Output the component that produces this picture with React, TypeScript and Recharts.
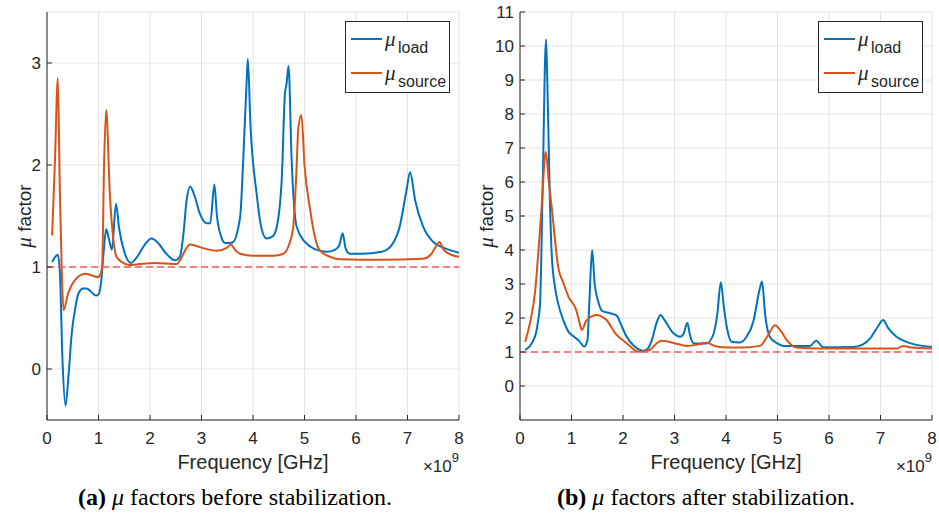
import React from 'react'
import { LineChart, Line, XAxis, YAxis, CartesianGrid, ReferenceLine, Legend, Label } from 'recharts'

const BLUE = '#0072BD'
const ORANGE = '#D95319'
const INK = '#262626'
const SANS = '"Liberation Sans", Arial, Helvetica, sans-serif'
const SERIF = '"Liberation Serif", "Times New Roman", serif'

// frequency ticks (x 10^9 Hz)
const freqTicks = [0, 1, 2, 3, 4, 5, 6, 7, 8]
const beforeTicks = [0, 1, 2, 3]
const afterTicks = [0, 1, 2, 3, 4, 5, 6, 7, 8, 9, 10, 11]

// (a) before stabilization
const loadBeforeFreq = [0.1, 0.21, 0.25, 0.3, 0.36, 0.42, 0.48, 0.55, 0.61, 0.7, 0.77, 0.85, 0.95, 1.0, 1.05, 1.1, 1.15, 1.2, 1.26, 1.34, 1.4, 1.5, 1.63, 1.75, 1.9, 2.03, 2.15, 2.3, 2.49, 2.58, 2.65, 2.71, 2.78, 2.87, 2.97, 3.1, 3.17, 3.25, 3.3, 3.38, 3.46, 3.6, 3.75, 3.81, 3.88, 3.9, 3.95, 4.07, 4.16, 4.26, 4.38, 4.46, 4.56, 4.62, 4.65, 4.69, 4.75, 4.85, 5.11, 5.3, 5.45, 5.6, 5.68, 5.74, 5.8, 5.88, 6.1, 6.5, 6.7, 6.85, 6.98, 7.05, 7.15, 7.3, 7.5, 7.7, 8.0]
const loadBeforeMu = [1.05, 1.12, 0.95, 0.1, -0.36, -0.05, 0.35, 0.6, 0.74, 0.79, 0.79, 0.76, 0.72, 0.73, 0.85, 1.15, 1.37, 1.28, 1.17, 1.62, 1.38, 1.15, 1.04, 1.1, 1.22, 1.28, 1.24, 1.14, 1.065, 1.1, 1.33, 1.65, 1.79, 1.69, 1.52, 1.43, 1.43, 1.81, 1.5, 1.3, 1.235, 1.24, 1.49, 2.05, 2.86, 3.04, 2.4, 1.72, 1.39, 1.28, 1.3, 1.39, 1.88, 2.7, 2.79, 2.97, 2.05, 1.39, 1.2, 1.16, 1.15, 1.17, 1.22, 1.33, 1.18, 1.13, 1.13, 1.15, 1.22, 1.4, 1.75, 1.93, 1.65, 1.4, 1.245, 1.19, 1.14]
const sourceBeforeFreq = [0.1, 0.155, 0.21, 0.25, 0.285, 0.32, 0.41, 0.54, 0.74, 0.85, 0.99, 1.04, 1.07, 1.11, 1.15, 1.22, 1.29, 1.35, 1.45, 1.6, 1.8, 2.1, 2.52, 2.6, 2.7, 2.78, 3.0, 3.3, 3.5, 3.57, 3.65, 3.75, 4.0, 4.4, 4.59, 4.7, 4.78, 4.84, 4.88, 4.94, 5.0, 5.11, 5.2, 5.3, 5.5, 5.69, 6.5, 7.3, 7.45, 7.55, 7.62, 7.7, 7.85, 8.0]
const sourceBeforeMu = [1.31, 2.05, 2.85, 1.72, 1.0, 0.575, 0.74, 0.87, 0.935, 0.92, 0.9, 0.93, 1.0, 2.05, 2.54, 1.72, 1.26, 1.1, 1.05, 1.02, 1.03, 1.04, 1.03, 1.08, 1.18, 1.22, 1.19, 1.16, 1.19, 1.22, 1.17, 1.13, 1.11, 1.11, 1.13, 1.22, 1.39, 1.9, 2.36, 2.49, 2.0, 1.56, 1.3, 1.16, 1.1, 1.075, 1.07, 1.08, 1.12, 1.2, 1.245, 1.17, 1.12, 1.1]

// (b) after stabilization
const loadAfterFreq = [0.1, 0.29, 0.35, 0.39, 0.44, 0.505, 0.53, 0.58, 0.615, 0.68, 0.74, 0.85, 0.94, 1.05, 1.15, 1.25, 1.31, 1.35, 1.4, 1.45, 1.52, 1.6, 1.75, 1.88, 1.95, 2.07, 2.2, 2.33, 2.4, 2.48, 2.56, 2.65, 2.73, 2.8, 2.98, 3.11, 3.18, 3.25, 3.3, 3.38, 3.62, 3.75, 3.83, 3.9, 3.96, 4.02, 4.11, 4.27, 4.4, 4.53, 4.65, 4.7, 4.76, 4.85, 5.0, 5.11, 5.24, 5.63, 5.75, 5.89, 6.47, 6.65, 6.8, 6.95, 7.05, 7.15, 7.31, 7.5, 7.7, 8.0]
const loadAfterMu = [1.06, 1.45, 1.9, 2.43, 5.86, 10.2, 9.0, 5.5, 3.9, 2.9, 2.43, 1.9, 1.6, 1.45, 1.32, 1.16, 1.35, 2.6, 4.0, 3.0, 2.48, 2.2, 2.14, 2.07, 1.85, 1.45, 1.2, 1.06, 1.04, 1.1, 1.35, 1.85, 2.09, 1.95, 1.55, 1.45, 1.55, 1.86, 1.5, 1.25, 1.25, 1.5, 2.1, 3.05, 2.3, 1.7, 1.3, 1.28, 1.45, 1.89, 2.82, 3.07, 2.1, 1.45, 1.25, 1.18, 1.18, 1.18, 1.33, 1.14, 1.15, 1.22, 1.4, 1.75, 1.94, 1.7, 1.45, 1.3, 1.21, 1.15]
const sourceAfterFreq = [0.1, 0.2, 0.29, 0.36, 0.42, 0.5, 0.56, 0.615, 0.74, 0.85, 0.94, 1.09, 1.15, 1.2, 1.28, 1.38, 1.48, 1.55, 1.68, 1.85, 2.07, 2.3, 2.52, 2.65, 2.75, 3.0, 3.24, 3.45, 3.62, 3.8, 3.94, 4.3, 4.66, 4.82, 4.95, 5.05, 5.18, 5.37, 5.82, 7.31, 7.44, 7.6, 8.0]
const sourceAfterMu = [1.3, 1.9, 2.73, 4.0, 5.27, 6.89, 6.0, 5.27, 3.51, 3.0, 2.63, 2.24, 1.9, 1.65, 1.9, 2.04, 2.09, 2.07, 1.94, 1.55, 1.26, 1.01, 1.06, 1.25, 1.33, 1.26, 1.18, 1.22, 1.27, 1.17, 1.14, 1.13, 1.18, 1.5, 1.79, 1.65, 1.35, 1.13, 1.1, 1.1, 1.18, 1.13, 1.1]

const toPoints = (f: number[], m: number[]) => f.map((x, i) => ({ f: x, mu: m[i] }))

const tickText = { fontSize: 17, fill: INK, fontFamily: SANS }

const LeftTick = (props: any) => {
  const { x, y, payload } = props
  return (
    <g>
      <line x1={x + 6} x2={x + 11} y1={y} y2={y} stroke={INK} />
      <text x={x} y={y} dy={6} textAnchor="end" {...tickText}>{payload.value}</text>
    </g>
  )
}

const RightTick = (props: any) => {
  const { x, y } = props
  return <line x1={x - 5} x2={x} y1={y} y2={y} stroke={INK} />
}

const BottomTick = (props: any) => {
  const { x, y, payload } = props
  return (
    <g>
      <line x1={x} x2={x} y1={y - 8} y2={y - 13} stroke={INK} />
      <text x={x} y={y} dy={16} textAnchor="middle" {...tickText}>{payload.value}</text>
    </g>
  )
}

const TopTick = (props: any) => {
  const { x, y } = props
  return <line x1={x} x2={x} y1={y} y2={y + 5} stroke={INK} />
}

const FreqTitle = (props: any) => {
  const { x, y, width } = props.viewBox
  return (
    <g fill={INK} fontFamily={SANS}>
      <text x={x + width / 2} y={y + 49} textAnchor="middle" fontSize={20}>Frequency [GHz]</text>
      <text x={x + width} y={y + 52} textAnchor="end" fontSize={17}>
        ×10<tspan dy={-10} fontSize={13}>9</tspan>
      </text>
    </g>
  )
}

const muTitle = (cx: number) => (props: any) => {
  const { y, height } = props.viewBox
  const cy = y + height / 2
  return (
    <text
      x={cx}
      y={cy}
      transform={`rotate(-90 ${cx} ${cy})`}
      textAnchor="middle"
      dominantBaseline="central"
      fontSize={19}
      fill={INK}
      fontFamily={SANS}
    >
      <tspan fontStyle="italic" fontFamily={SERIF} fontSize={21}>μ</tspan> factor
    </text>
  )
}

const MuLegend = () => (
  <svg width={105} height={72} style={{ display: 'block' }}>
    <rect x={0.5} y={0.5} width={104} height={71} fill="#fff" stroke={INK} />
    <line x1={6} x2={37} y1={18} y2={18} stroke={BLUE} strokeWidth={2} />
    <text x={40} y={25} fill={INK} fontFamily={SERIF} fontStyle="italic" fontSize={21}>μ</text>
    <text x={53} y={32} fill={INK} fontFamily={SANS} fontSize={16}>load</text>
    <line x1={6} x2={37} y1={52} y2={52} stroke={ORANGE} strokeWidth={2} />
    <text x={40} y={59} fill={INK} fontFamily={SERIF} fontStyle="italic" fontSize={21}>μ</text>
    <text x={53} y={66} fill={INK} fontFamily={SANS} fontSize={16}>source</text>
  </svg>
)

interface PanelProps {
  load: { f: number; mu: number }[]
  source: { f: number; mu: number }[]
  yDomain: [number, number]
  yTicks: number[]
  width: number
  marginLeft: number
  marginRight: number
  titleX: number
  legendLeft: number
}

function MuPanel({ load, source, yDomain, yTicks, width, marginLeft, marginRight, titleX, legendLeft }: PanelProps) {
  return (
    <LineChart width={width} height={480} margin={{ top: 12, right: marginRight, bottom: 0, left: marginLeft }}>
      <CartesianGrid stroke="#e3e3e3" strokeWidth={1} />
      <XAxis
        dataKey="f"
        type="number"
        domain={[0, 8]}
        ticks={freqTicks}
        allowDataOverflow
        height={60}
        stroke={INK}
        tickLine={false}
        tickSize={0}
        tickMargin={8}
        tick={BottomTick}
      >
        <Label content={FreqTitle} />
      </XAxis>
      <XAxis
        xAxisId="top"
        orientation="top"
        dataKey="f"
        type="number"
        domain={[0, 8]}
        ticks={freqTicks}
        height={0}
        stroke={INK}
        tickLine={false}
        tickSize={0}
        tickMargin={0}
        tick={TopTick}
      />
      <YAxis
        type="number"
        domain={yDomain}
        ticks={yTicks}
        allowDataOverflow
        width={40}
        stroke={INK}
        tickLine={false}
        tickSize={0}
        tickMargin={6}
        tick={LeftTick}
      >
        <Label content={muTitle(titleX)} />
      </YAxis>
      <YAxis
        yAxisId="right"
        orientation="right"
        type="number"
        domain={yDomain}
        ticks={yTicks}
        width={0}
        stroke={INK}
        tickLine={false}
        tickSize={0}
        tickMargin={0}
        tick={RightTick}
      />
      <Line data={load} dataKey="mu" name="load" type="monotone" stroke={BLUE} strokeWidth={2} dot={false} isAnimationActive={false} />
      <Line data={source} dataKey="mu" name="source" type="monotone" stroke={ORANGE} strokeWidth={2} dot={false} isAnimationActive={false} />
      <ReferenceLine y={1} stroke="#F25C5C" strokeWidth={1.5} strokeDasharray="7 4" />
      <Legend
        layout="horizontal"
        align="center"
        verticalAlign="middle"
        content={MuLegend}
        wrapperStyle={{ position: 'absolute', left: legendLeft, top: 21, width: 105, height: 72 }}
      />
    </LineChart>
  )
}

export default function App() {
  return (
    <div style={{ position: 'absolute', left: 0, top: 0, width: 939, height: 519, background: '#fff' }}>
      <div style={{ position: 'absolute', left: 0, top: 0 }}>
        <MuPanel
          load={toPoints(loadBeforeFreq, loadBeforeMu)}
          source={toPoints(sourceBeforeFreq, sourceBeforeMu)}
          yDomain={[-0.5, 3.5]}
          yTicks={beforeTicks}
          width={470}
          marginLeft={7}
          marginRight={11}
          titleX={24}
          legendLeft={345}
        />
      </div>
      <div style={{ position: 'absolute', left: 470, top: 0 }}>
        <MuPanel
          load={toPoints(loadAfterFreq, loadAfterMu)}
          source={toPoints(sourceAfterFreq, sourceAfterMu)}
          yDomain={[-1, 11]}
          yTicks={afterTicks}
          width={469}
          marginLeft={10}
          marginRight={7}
          titleX={16}
          legendLeft={348}
        />
      </div>
      <svg width={939} height={39} style={{ position: 'absolute', left: 0, top: 480 }}>
        <g fill="#000" fontFamily={SERIF} fontSize={24}>
          <text x={235} y={25} textAnchor="middle">
            <tspan fontWeight="bold">(a)</tspan> <tspan fontStyle="italic">μ</tspan> factors before stabilization.
          </text>
          <text x={706} y={25} textAnchor="middle">
            <tspan fontWeight="bold">(b)</tspan> <tspan fontStyle="italic">μ</tspan> factors after stabilization.
          </text>
        </g>
      </svg>
    </div>
  )
}
